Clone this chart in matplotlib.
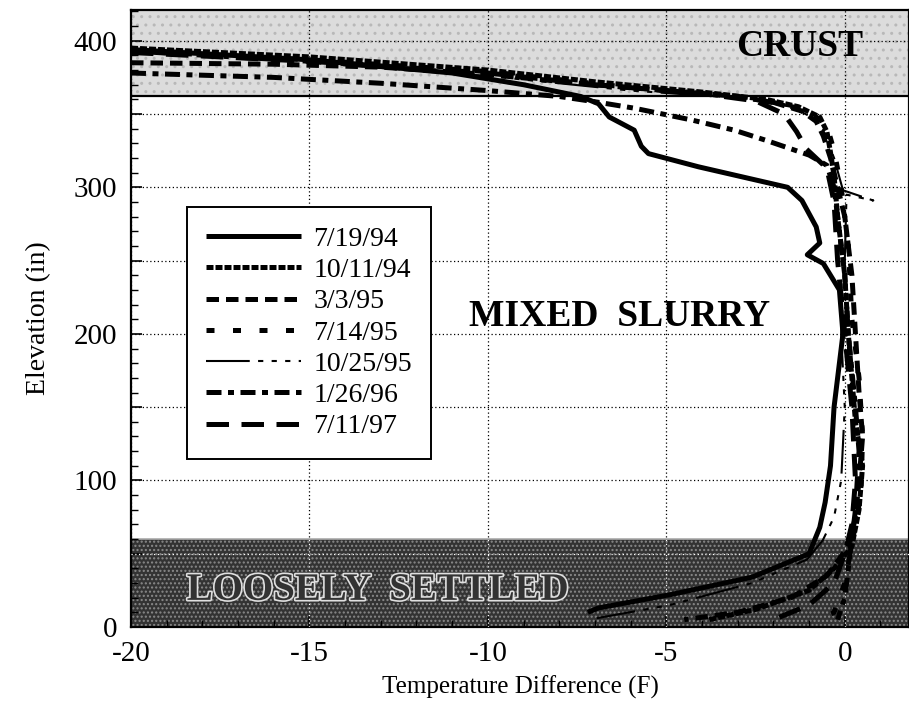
import numpy as np
import matplotlib
matplotlib.use('Agg')
import matplotlib.pyplot as plt
import matplotlib.ticker as mticker
import matplotlib.patheffects as pe

plt.rcParams['font.family'] = ['Liberation Serif', 'DejaVu Serif']
plt.rcParams['axes.unicode_minus'] = False

# temperature difference (F) vs elevation (in)
t_071994 = [-20, -15, -11, -9, -7.4, -6.9, -6.6, -5.9, -5.7, -5.5, -4.1, -1.6, -1.2, -0.8, -0.7,
            -1.05, -0.6, -0.15, -0.05, -0.3, -0.4, -0.55, -0.7, -1.0, -2.6, -4.9, -6.9, -7.2]
e_071994 = [394, 387, 378, 370, 362, 357, 348, 339, 328, 323, 314, 300, 291, 273, 262,
            254, 248, 230, 200, 150, 110, 85, 68, 50, 34, 22, 13, 10]

t_101194 = [-20, -15, -10, -7, -4, -2.2, -1.3, -0.7, -0.5, -0.4, -0.3, -0.2, 0.0, 0.1, 0.3,
            0.5, 0.4, 0.2, -0.3, -1.0, -2.5, -3.8]
e_101194 = [395, 389, 380, 372, 365, 360, 355, 348, 338, 324, 308, 280, 240, 200, 140,
            110, 80, 55, 40, 25, 12, 5]

t_030395 = [-20, -16, -13, -10, -7, -5, -3, -2, -1.2, -0.8, -0.6, -0.4, -0.2, 0.0, 0.2,
            0.3, 0.4, 0.5, 0.4, 0.3, 0.1, -0.5, -1.5, -3.0, -4.5]
e_030395 = [385, 384, 382, 377, 370, 366, 362, 358, 352, 345, 335, 320, 300, 280, 240,
            200, 160, 130, 100, 75, 55, 35, 20, 10, 5]

t_071495 = [-20, -15, -10, -6, -3, -1.8, -1.0, -0.5, -0.3, -0.1, 0.1, 0.2, 0.4, 0.5, 0.45,
            0.3, 0.15, 0.0, -0.3, -0.8]
e_071495 = [393, 387, 379, 368, 362, 357, 352, 342, 325, 300, 260, 210, 170, 130, 90,
            70, 50, 30, 10, 3]

t_102595 = [-20, -15, -10, -6, -3, -1.5, -0.7, -0.3, -0.05, 0.8, 0.05, 0.0, -0.1, 0.0,
            -0.1, -0.3, -0.62, -1.06, -2.6, -4.9, -6.95]
e_102595 = [392, 385, 376, 366, 361, 355, 345, 320, 298, 291, 295, 250, 200, 150,
            100, 75, 59, 46, 30, 15, 6]

t_012696 = [-20, -16, -13, -10, -8, -6.9, -5.9, -4.3, -3.1, -2.2, -1.6, -1.0, -0.5, -0.3,
            -0.15, 0.0, 0.1, 0.3, 0.4, 0.3, 0.2, 0.1, 0.0, -0.2]
e_012696 = [378, 375, 371, 366, 362, 358, 354, 346, 339, 332, 327, 322, 315, 300,
            270, 240, 200, 150, 120, 80, 60, 40, 20, 5]

t_071197 = [-20, -15, -10, -7, -4, -2.5, -1.7, -1.35, -1.07, -0.5, -0.3, -0.2, 0.0, 0.2,
            0.3, 0.2, 0.0, -0.3, -1.0, -2.0]
e_071197 = [392, 386, 378, 370, 364, 359, 350, 338, 326, 313, 290, 250, 200, 150,
            100, 70, 50, 30, 15, 5]

labels = ['7/19/94', '10/11/94', '3/3/95', '7/14/95', '10/25/95', '1/26/96', '7/11/97']
temps = [t_071994, t_101194, t_030395, t_071495, t_102595, t_012696, t_071197]
elevs = [e_071994, e_101194, e_030395, e_071495, e_102595, e_012696, e_071197]
widths = [3.6, 3.6, 3.6, 3.6, 1.5, 3.6, 3.6]
dashes = [None, (1.4, 0.4), (2.5, 1.4), (1.6, 3.7),
          (21, 4, 2.5, 4, 2.5, 4, 2.5, 4, 2.5, 4), (3, 1.3, 1.2, 1.3), (4.5, 2.5)]

crust_bottom = 362
settled_top = 60

fig = plt.figure(figsize=(9.09, 7.08), dpi=100)
ax = fig.add_axes([0.1441, 0.1144, 0.8559, 0.8715])

ax.axhspan(crust_bottom, 421, facecolor='#dcdcdc', edgecolor='#b8b8b8', hatch='..', zorder=1, lw=0)
ax.axhspan(0, settled_top, facecolor='#333333', edgecolor='#8a8a8a', hatch='....', zorder=1, lw=0)
ax.axhline(crust_bottom, color='black', lw=1.6, zorder=2)
ax.axhline(settled_top, color='#aaaaaa', lw=1.2, zorder=2)

# grid, white inside the dark band
ax.set_axisbelow(False)
ax.grid(True, which='major', color='black', lw=0.9, ls=(0, (1, 2)))
ax.hlines([50], -20, 1.8, colors='white', lw=0.9, ls=(0, (1, 2)), zorder=2.6)
ax.vlines([-15, -10, -5, 0], 0, settled_top, colors='white', lw=0.9, ls=(0, (1, 2)), zorder=2.6)

for t, e, lab, w, d in zip(temps, elevs, labels, widths, dashes):
    line, = ax.plot(t, e, color='black', lw=w, label=lab, zorder=3,
                    solid_capstyle='butt', dash_capstyle='butt')
    if d is not None:
        line.set_dashes(d)

ax.text(-1.25, 396, 'CRUST', fontsize=27, fontweight='bold', ha='center', va='center', zorder=4)
ax.text(-6.3, 212, 'MIXED  SLURRY', fontsize=27, fontweight='bold', ha='center', va='center', zorder=4)
ax.text(-13.1, 25, 'LOOSELY  SETTLED', fontsize=28, fontweight='bold', color='#333333',
        ha='center', va='center', zorder=4,
        path_effects=[pe.withStroke(linewidth=2.4, foreground='#e0e0e0')])

ax.set_xlim(-20, 1.8)
ax.set_ylim(0, 421)
ax.set_xticks([-20, -15, -10, -5, 0])
ax.xaxis.set_minor_locator(mticker.MultipleLocator(1))
ax.yaxis.set_major_locator(mticker.MultipleLocator(50))
ax.yaxis.set_minor_locator(mticker.MultipleLocator(10))
ax.yaxis.set_major_formatter(mticker.FuncFormatter(lambda v, p: f'{v:.0f}' if v % 100 == 0 else ''))
ax.tick_params(which='both', direction='in', labelsize=21, top=False, right=False)
ax.tick_params(which='major', length=8, width=1.2)
ax.tick_params(which='minor', length=5, width=1.0)
ax.tick_params(axis='x', pad=10)
ax.tick_params(axis='y', pad=10)
for s in ax.spines.values():
    s.set_linewidth(1.6)

ax.set_xlabel('Temperature Difference (F)', fontsize=18, labelpad=6)
ax.set_ylabel('Elevation (in)', fontsize=20, labelpad=16)

leg = ax.legend(loc='upper left', bbox_to_anchor=(0.072, 0.681), fontsize=20, frameon=True,
                fancybox=False, framealpha=1, edgecolor='black', handlelength=3.4,
                handletextpad=0.45, labelspacing=0.21, borderpad=0.7, borderaxespad=0)
leg.get_frame().set_linewidth(1.4)
leg.set_zorder(5)

fig.savefig('out.png', dpi=100)
